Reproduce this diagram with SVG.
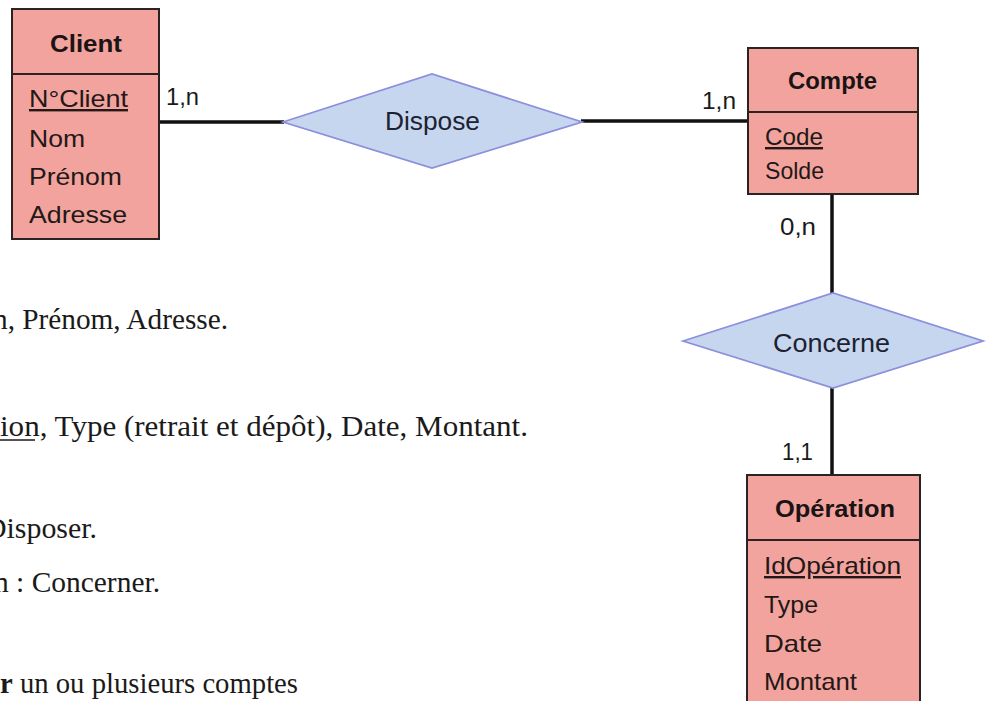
<svg xmlns="http://www.w3.org/2000/svg" width="987" height="701" viewBox="0 0 987 701">
  <defs>
    <style>
      .entity { fill: #f3a39d; stroke: #2b2222; stroke-width: 2; }
      .divider { stroke: #2b2222; stroke-width: 2; }
      .relation { fill: #c7d6ef; stroke: #8c90dc; stroke-width: 1.8; }
      .link { stroke: #111; stroke-width: 3.5; fill: none; }
      .title { font-family: "Liberation Sans", Arial, sans-serif; font-weight: bold; font-size: 24px; fill: #1a1414; }
      .attr { font-family: "Liberation Sans", Arial, sans-serif; font-size: 24px; fill: #221818; }
      .key { text-decoration: underline; }
      .rel { font-family: "Liberation Sans", Arial, sans-serif; font-size: 25px; fill: #1c2230; }
      .card { font-family: "Liberation Sans", Arial, sans-serif; font-size: 23px; fill: #1a1a1a; }
      .prose { font-family: "Liberation Serif", "Times New Roman", serif; font-size: 29px; fill: #1a1a1a; }
    </style>
  </defs>

  <rect width="987" height="701" fill="#ffffff"/>

  <!-- connectors -->
  <g id="connectors">
    <line class="link" x1="159" y1="122" x2="284" y2="122"/>
    <line class="link" x1="581" y1="121" x2="748" y2="121"/>
    <line class="link" x1="832" y1="194" x2="832" y2="294"/>
    <line class="link" x1="832" y1="388" x2="832" y2="475"/>
  </g>

  <!-- entity: Client -->
  <g id="client">
    <rect class="entity" x="12" y="9" width="147" height="230"/>
    <line class="divider" x1="12" y1="74" x2="159" y2="74"/>
    <text class="title" x="50" y="52" textLength="72" lengthAdjust="spacingAndGlyphs">Client</text>
    <text class="attr key" x="29" y="107" textLength="99" lengthAdjust="spacingAndGlyphs">N°Client</text>
    <text class="attr" x="29" y="147" textLength="56" lengthAdjust="spacingAndGlyphs">Nom</text>
    <text class="attr" x="29" y="185" textLength="93" lengthAdjust="spacingAndGlyphs">Prénom</text>
    <text class="attr" x="29" y="223" textLength="98" lengthAdjust="spacingAndGlyphs">Adresse</text>
  </g>

  <!-- relation: Dispose -->
  <g id="dispose">
    <polygon class="relation" points="283,122 432,74 582,122 432,168"/>
    <text class="rel" x="385" y="130" textLength="95" lengthAdjust="spacingAndGlyphs">Dispose</text>
  </g>

  <!-- entity: Compte -->
  <g id="compte">
    <rect class="entity" x="748" y="48" width="170" height="146"/>
    <line class="divider" x1="748" y1="112" x2="918" y2="112"/>
    <text class="title" x="788" y="89" textLength="89" lengthAdjust="spacingAndGlyphs">Compte</text>
    <text class="attr key" x="765" y="145" textLength="58" lengthAdjust="spacingAndGlyphs">Code</text>
    <text class="attr" x="765" y="179" textLength="59" lengthAdjust="spacingAndGlyphs">Solde</text>
  </g>

  <!-- relation: Concerne -->
  <g id="concerne">
    <polygon class="relation" points="683,341 833,293 983,341 833,388"/>
    <text class="rel" x="773" y="352" textLength="117" lengthAdjust="spacingAndGlyphs">Concerne</text>
  </g>

  <!-- entity: Opération -->
  <g id="operation">
    <rect class="entity" x="747" y="475" width="173" height="240"/>
    <line class="divider" x1="747" y1="540" x2="920" y2="540"/>
    <text class="title" x="775" y="517" textLength="120" lengthAdjust="spacingAndGlyphs">Opération</text>
    <text class="attr key" x="764" y="574" textLength="137" lengthAdjust="spacingAndGlyphs">IdOpération</text>
    <text class="attr" x="764" y="613" textLength="54" lengthAdjust="spacingAndGlyphs">Type</text>
    <text class="attr" x="764" y="652" textLength="58" lengthAdjust="spacingAndGlyphs">Date</text>
    <text class="attr" x="764" y="690" textLength="93" lengthAdjust="spacingAndGlyphs">Montant</text>
  </g>

  <!-- cardinalities -->
  <g id="cardinalities">
    <text class="card" x="166" y="105" textLength="33" lengthAdjust="spacingAndGlyphs">1,n</text>
    <text class="card" x="702" y="109" textLength="34" lengthAdjust="spacingAndGlyphs">1,n</text>
    <text class="card" x="780" y="235" textLength="36" lengthAdjust="spacingAndGlyphs">0,n</text>
    <text class="card" x="782" y="460" textLength="31" lengthAdjust="spacingAndGlyphs">1,1</text>
  </g>

  <!-- surrounding document text -->
  <g id="notes">
    <text class="prose" x="-7" y="329" textLength="235" lengthAdjust="spacingAndGlyphs">n, Prénom, Adresse.</text>
    <text class="prose" x="0" y="436" textLength="528" lengthAdjust="spacingAndGlyphs">ion, Type (retrait et dépôt), Date, Montant.</text>
    <line x1="0" y1="440" x2="35" y2="440" stroke="#1a1a1a" stroke-width="1.4"/>
    <text class="prose" x="-15" y="538" textLength="112" lengthAdjust="spacingAndGlyphs">Disposer.</text>
    <text class="prose" x="-6" y="592" textLength="166" lengthAdjust="spacingAndGlyphs">n : Concerner.</text>
    <text class="prose" x="0" y="693" textLength="298" lengthAdjust="spacingAndGlyphs"><tspan font-weight="bold">r</tspan> un ou plusieurs comptes</text>
  </g>
</svg>
